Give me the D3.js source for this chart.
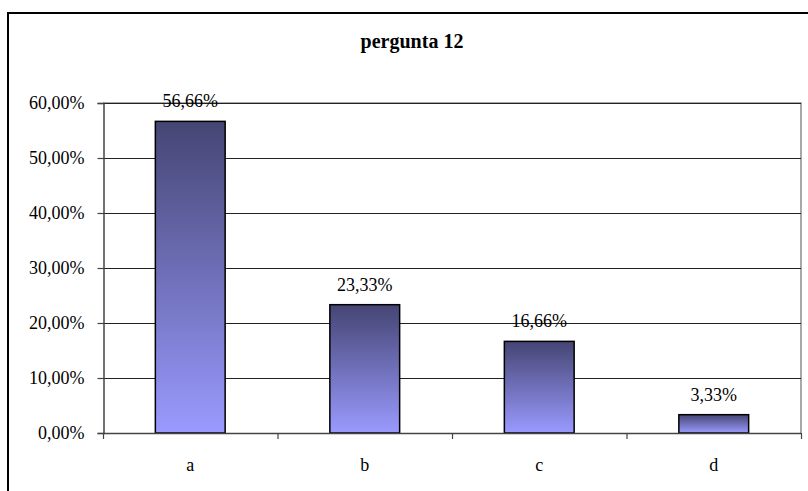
<!DOCTYPE html>
<html>
<head>
<meta charset="utf-8">
<script src="https://cdn.jsdelivr.net/npm/d3@7"></script>
<style>
  html, body { margin: 0; padding: 0; background: #fff; font-family: "Liberation Serif", serif; }
  svg { display: block; }
  svg text { font-family: "Liberation Serif", serif !important; }
</style>
</head>
<body>
<svg id="chart" width="808" height="491" font-family="Liberation Serif"></svg>
<script>
// Responses to question 12 (share of answers per option)
const categories = ["a", "b", "c", "d"];
const values = [56.66, 23.33, 16.66, 3.33];
const valueLabels = ["56,66%", "23,33%", "16,66%", "3,33%"];
const yTicks = [0, 10, 20, 30, 40, 50, 60];
const yTickLabels = ["0,00%", "10,00%", "20,00%", "30,00%", "40,00%", "50,00%", "60,00%"];
const title = "pergunta 12";

const svg = d3.select("#chart");

const plot = { left: 103, right: 801, top: 103, bottom: 433 };

const x = d3.scaleBand()
  .domain(categories)
  .range([plot.left, plot.right])
  .paddingInner(0.6)
  .paddingOuter(0.3);

const y = d3.scaleLinear()
  .domain([0, 60])
  .range([plot.bottom, plot.top]);

// bar gradient: dark at top, light at bottom
const defs = svg.append("defs");
const grad = defs.append("linearGradient")
  .attr("id", "barGrad")
  .attr("x1", 0).attr("y1", 0).attr("x2", 0).attr("y2", 1);
grad.append("stop").attr("offset", "0%").attr("stop-color", "#454574");
grad.append("stop").attr("offset", "100%").attr("stop-color", "#9a9aff");

// outer chart frame
svg.append("rect")
  .attr("x", 8).attr("y", 13)
  .attr("width", 830).attr("height", 520)
  .attr("fill", "#fff")
  .attr("stroke", "#000")
  .attr("stroke-width", 2);

// helper for serif labels
function serif(sel, size) {
  return sel.attr("font-family", "Liberation Serif")
    .style("font-family", "Liberation Serif")
    .attr("font-size", size)
    .style("font-size", size + "px");
}

// title
serif(svg.append("text"), 20)
  .attr("x", 412).attr("y", 48)
  .attr("text-anchor", "middle")
  .attr("font-weight", "bold")
  .text(title);

// plot area border (top / right)
svg.append("path")
  .attr("d", `M${plot.left},${plot.top}H${plot.right}V${plot.bottom}`)
  .attr("fill", "none")
  .attr("stroke", "#8c8c8c")
  .attr("stroke-width", 1.5);

// horizontal gridlines
svg.append("g")
  .selectAll("line")
  .data(yTicks.filter(d => d > 0))
  .join("line")
  .attr("x1", plot.left).attr("x2", plot.right)
  .attr("y1", d => Math.round(y(d)) + 0.5)
  .attr("y2", d => Math.round(y(d)) + 0.5)
  .attr("stroke", "#222")
  .attr("stroke-width", 1);

// y axis
const yAxis = d3.axisLeft(y)
  .tickValues(yTicks)
  .tickFormat((d, i) => yTickLabels[i])
  .tickSize(6)
  .tickPadding(13);
const gy = svg.append("g")
  .attr("transform", `translate(${plot.left + 0.5},0)`)
  .call(yAxis)
  .attr("font-family", "Liberation Serif")
  .attr("font-size", 18);
gy.select(".domain").attr("stroke", "#444").attr("stroke-width", 1.5);
gy.selectAll(".tick line").attr("stroke", "#444").attr("stroke-width", 1.2);
serif(gy.selectAll(".tick text"), 18).attr("fill", "#000");

// bars
svg.append("g")
  .selectAll("rect")
  .data(values)
  .join("rect")
  .attr("x", (d, i) => x(categories[i]))
  .attr("y", d => y(d))
  .attr("width", x.bandwidth())
  .attr("height", d => y(0) - y(d))
  .attr("fill", "url(#barGrad)")
  .attr("stroke", "#000")
  .attr("stroke-width", 1.5);

// value labels
serif(svg.append("g")
  .selectAll("text")
  .data(values)
  .join("text"), 18)
  .attr("x", (d, i) => x(categories[i]) + x.bandwidth() / 2)
  .attr("y", d => y(d) - 14)
  .attr("text-anchor", "middle")
  .text((d, i) => valueLabels[i]);

// x axis baseline with ticks at category boundaries
const boundaries = d3.range(categories.length + 1).map(i => plot.left + i * (plot.right - plot.left) / categories.length);
const gx = svg.append("g");
gx.append("line")
  .attr("x1", plot.left).attr("x2", plot.right)
  .attr("y1", plot.bottom + 0.5).attr("y2", plot.bottom + 0.5)
  .attr("stroke", "#444").attr("stroke-width", 1.5);
gx.selectAll("line.tick")
  .data(boundaries)
  .join("line")
  .attr("class", "tick")
  .attr("x1", d => d + 0.5).attr("x2", d => d + 0.5)
  .attr("y1", plot.bottom).attr("y2", plot.bottom + 6)
  .attr("stroke", "#444").attr("stroke-width", 1.2);
serif(gx.selectAll("text")
  .data(categories)
  .join("text"), 18)
  .attr("x", d => x(d) + x.bandwidth() / 2)
  .attr("y", 471)
  .attr("text-anchor", "middle")
  .text(d => d);
</script>
</body>
</html>
